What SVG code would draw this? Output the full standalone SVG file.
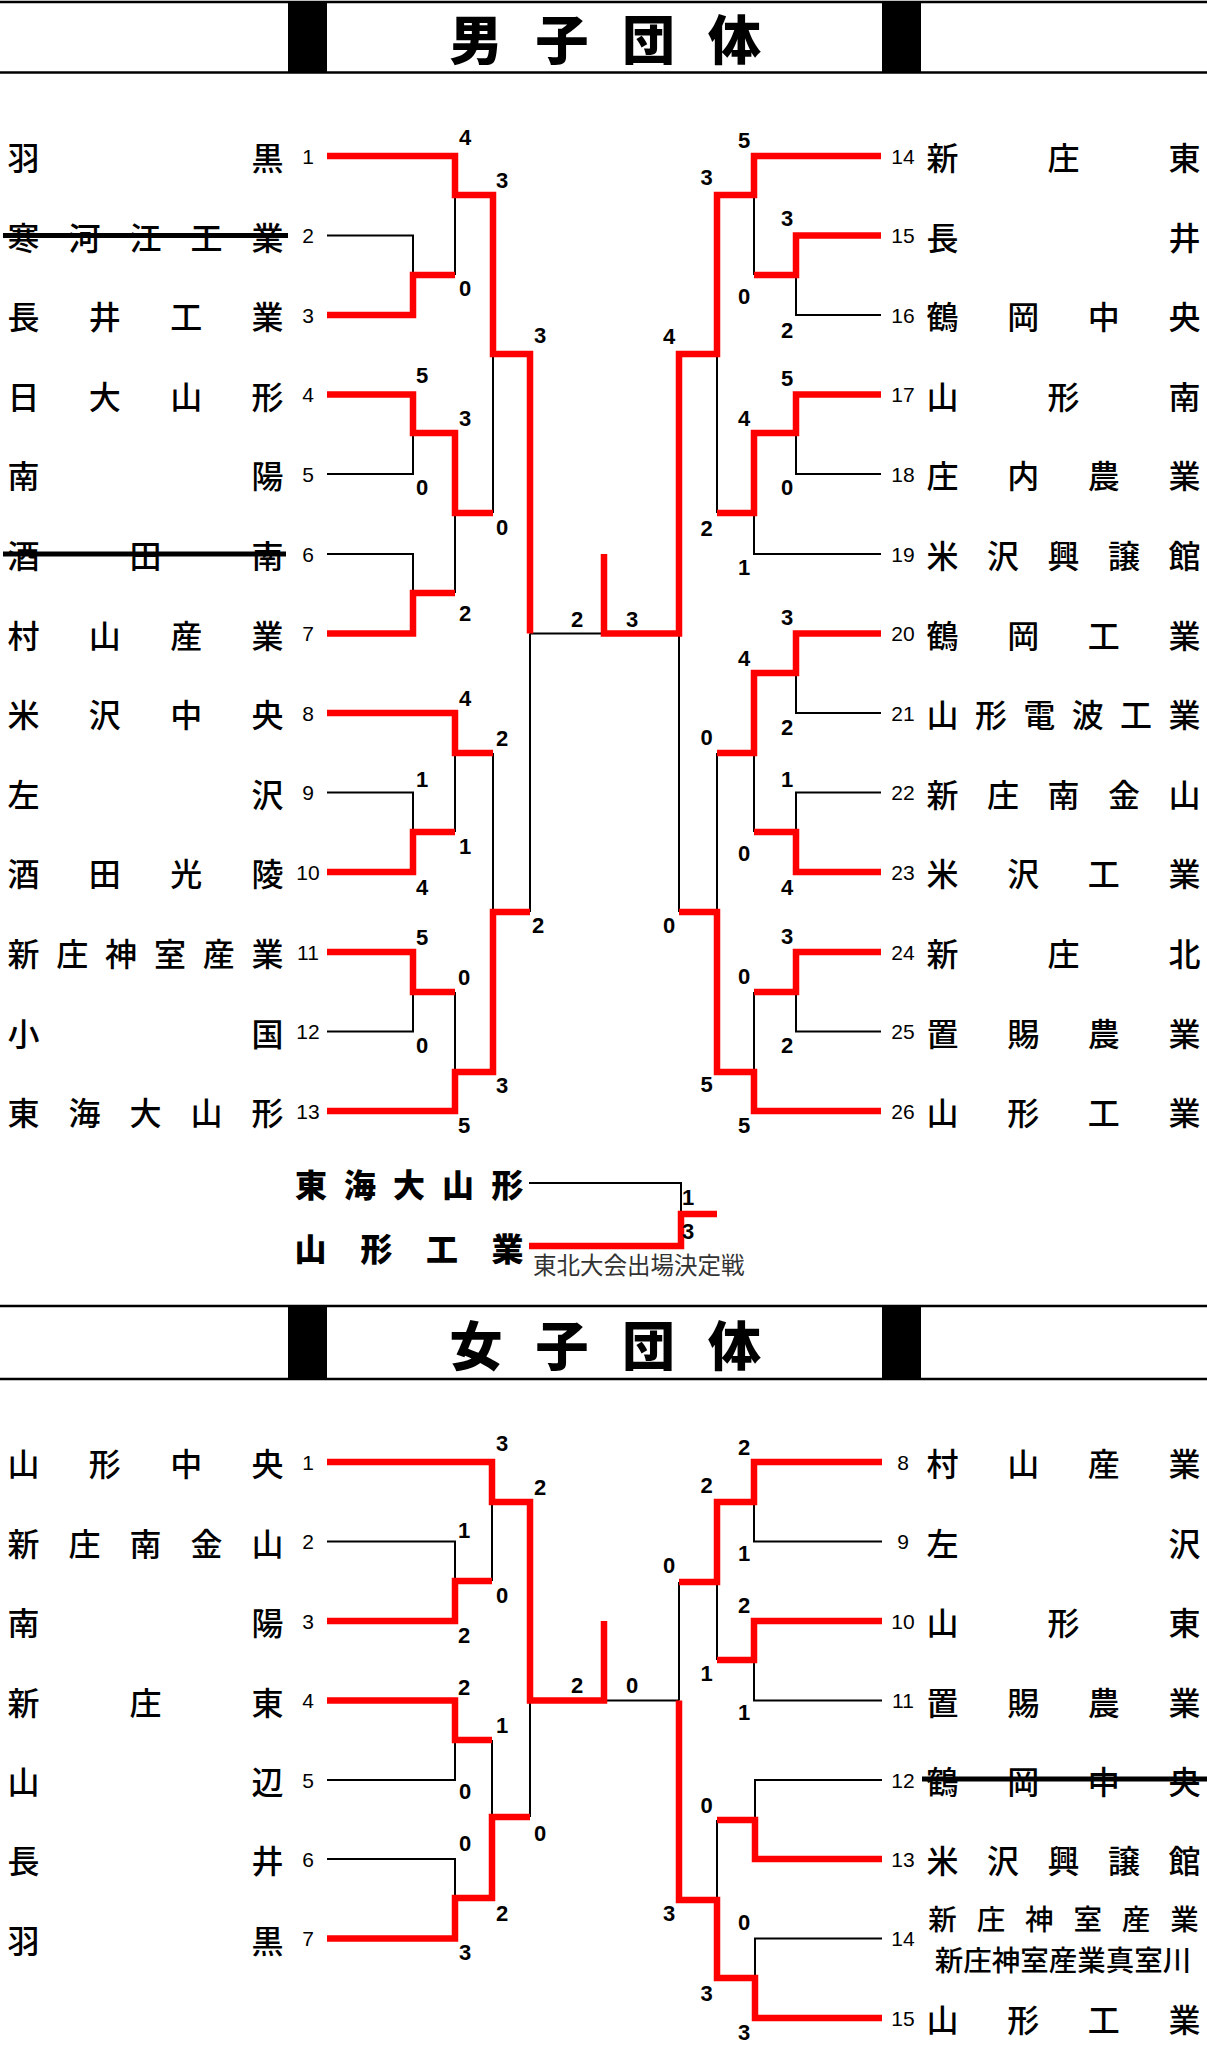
<svg xmlns="http://www.w3.org/2000/svg" width="1207" height="2048" viewBox="0 0 1207 2048">
<style>
.bg{fill:#fff}
.hl{stroke:#000;stroke-width:2.5}
.blk{fill:#000}
.title{font-family:"Noto Sans CJK JP",sans-serif;font-weight:900;font-size:53px;text-anchor:middle;dominant-baseline:central;fill:#000}
.nm{font-family:"Noto Sans CJK JP",sans-serif;font-weight:500;font-size:32px;text-anchor:middle;dominant-baseline:central;fill:#000}
.nm2{font-family:"Noto Sans CJK JP",sans-serif;font-weight:500;font-size:28.5px;text-anchor:middle;dominant-baseline:central;fill:#000}
.po{font-family:"Noto Sans CJK JP",sans-serif;font-weight:900;font-size:32px;text-anchor:middle;dominant-baseline:central;fill:#000}
.sd{font-family:"Liberation Sans Narrow","Liberation Sans",sans-serif;font-size:21px;text-anchor:middle;dominant-baseline:central;fill:#000}
.sc{font-family:"Liberation Sans Narrow","Liberation Sans",sans-serif;font-weight:bold;font-size:22px;text-anchor:middle;dominant-baseline:central;fill:#000}
.note{font-family:"Noto Sans CJK JP",sans-serif;font-size:23.5px;dominant-baseline:central;fill:#333}
.st{stroke:#000;stroke-width:5}
.b{stroke:#000;stroke-width:2;fill:none}
.r{stroke:#ff0000;stroke-width:6.5;fill:none}
</style>
<rect class="bg" x="0" y="0" width="1207" height="2048"/>

<g id="header-men">
<line class="hl" x1="0" y1="2" x2="1207" y2="2"/>
<line class="hl" x1="0" y1="72.5" x2="1207" y2="72.5"/>
<rect class="blk" x="288" y="2" width="39" height="71"/>
<rect class="blk" x="882" y="2" width="39" height="71"/>
<text class="title" x="476 562 648.5 734.5" y="37">男子団体</text>
</g>

<g id="header-women">
<line class="hl" x1="0" y1="1306" x2="1207" y2="1306"/>
<line class="hl" x1="0" y1="1379" x2="1207" y2="1379"/>
<rect class="blk" x="288" y="1306" width="39" height="73"/>
<rect class="blk" x="882" y="1306" width="39" height="73"/>
<text class="title" x="476 562 648.5 734.5" y="1343">女子団体</text>
</g>

<g id="connectors">
<path class="b" d="M327,235.5 H413 V275"/>
<path class="b" d="M327,474 H413 V433"/>
<path class="b" d="M327,554 H413 V593"/>
<path class="b" d="M327,792.5 H413 V832"/>
<path class="b" d="M327,1031.5 H413 V992"/>
<path class="b" d="M455,195 V275 M455,513 V593 M455,753 V832 M455,992 V1072"/>
<path class="b" d="M493,354 V513 M493,753 V912"/>
<path class="b" d="M530,633.5 V912 M530,633.5 H604"/>
<path class="b" d="M881,315 H796 V275"/>
<path class="b" d="M881,474 H796 V433"/>
<path class="b" d="M881,554 H754 V513"/>
<path class="b" d="M881,713 H796 V673"/>
<path class="b" d="M881,792.5 H796 V832"/>
<path class="b" d="M881,1031.5 H796 V992"/>
<path class="b" d="M754,195 V275 M754,753 V832 M754,992 V1072"/>
<path class="b" d="M717,354 V513 M717,753 V912"/>
<path class="b" d="M679,633.5 V912"/>
<path class="r" d="M327,156 H455 V195 H493 V354 H530 V633.5"/>
<path class="r" d="M327,315 H413 V275 H455"/>
<path class="r" d="M327,394.5 H413 V433 H455 V513 H493"/>
<path class="r" d="M327,633.5 H413 V593 H455"/>
<path class="r" d="M327,713 H455 V753 H493"/>
<path class="r" d="M327,872 H413 V832 H455"/>
<path class="r" d="M327,952 H413 V992 H455"/>
<path class="r" d="M327,1111 H455 V1072 H493 V912 H530"/>
<path class="r" d="M881,156 H754 V195 H717 V354 H679 V633.5 H604 V554"/>
<path class="r" d="M881,235.5 H796 V275 H754"/>
<path class="r" d="M881,394.5 H796 V433 H754 V513 H717"/>
<path class="r" d="M881,633.5 H796 V673 H754 V753 H717"/>
<path class="r" d="M881,872 H796 V832 H754"/>
<path class="r" d="M881,952 H796 V992 H754"/>
<path class="r" d="M881,1111 H754 V1072 H717 V912 H679"/>
<path class="b" d="M529,1183 H681 V1214"/>
<path class="r" d="M529,1246 H681 V1214 H717"/>
<path class="b" d="M327,1541.5 H455 V1581"/>
<path class="b" d="M327,1780 H455 V1740"/>
<path class="b" d="M327,1859 H455 V1898"/>
<path class="b" d="M492,1502 V1581 M492,1740 V1817"/>
<path class="b" d="M530,1700.5 V1817"/>
<path class="b" d="M882,1541.5 H754 V1502"/>
<path class="b" d="M882,1700.5 H754 V1660"/>
<path class="b" d="M882,1780 H755 V1820"/>
<path class="b" d="M882,1938.5 H755 V1978"/>
<path class="b" d="M717,1582 V1660 M717,1820 V1900"/>
<path class="b" d="M679,1582 V1700.5 M604,1700.5 H679"/>
<path class="r" d="M327,1462 H492 V1502 H530 V1700.5 H604 V1621"/>
<path class="r" d="M327,1621 H455 V1581 H492"/>
<path class="r" d="M327,1700.5 H455 V1740 H492"/>
<path class="r" d="M327,1938.5 H455 V1898 H492 V1817 H530"/>
<path class="r" d="M882,1462 H754 V1502 H717 V1582 H679"/>
<path class="r" d="M882,1621 H754 V1660 H717"/>
<path class="r" d="M882,1859 H755 V1820 H717"/>
<path class="r" d="M882,2018 H755 V1978 H717 V1900 H679 V1700.5"/>
</g>

<g id="m-1"><text class="nm" x="23.5 267.5" y="156">羽黒</text><text class="sd" x="308" y="156">1</text></g>
<g id="m-2"><text class="nm" x="23.5 84.5 145.5 206.5 267.5" y="235.5">寒河江工業</text><line class="st" x1="3" y1="235.5" x2="288" y2="235.5"/><text class="sd" x="308" y="235.5">2</text></g>
<g id="m-3"><text class="nm" x="23.5 104.8 186.2 267.5" y="315">長井工業</text><text class="sd" x="308" y="315">3</text></g>
<g id="m-4"><text class="nm" x="23.5 104.8 186.2 267.5" y="394.5">日大山形</text><text class="sd" x="308" y="394.5">4</text></g>
<g id="m-5"><text class="nm" x="23.5 267.5" y="474">南陽</text><text class="sd" x="308" y="474">5</text></g>
<g id="m-6"><text class="nm" x="23.5 145.5 267.5" y="554">酒田南</text><line class="st" x1="3" y1="554" x2="286" y2="554"/><text class="sd" x="308" y="554">6</text></g>
<g id="m-7"><text class="nm" x="23.5 104.8 186.2 267.5" y="633.5">村山産業</text><text class="sd" x="308" y="633.5">7</text></g>
<g id="m-8"><text class="nm" x="23.5 104.8 186.2 267.5" y="713">米沢中央</text><text class="sd" x="308" y="713">8</text></g>
<g id="m-9"><text class="nm" x="23.5 267.5" y="792.5">左沢</text><text class="sd" x="308" y="792.5">9</text></g>
<g id="m-10"><text class="nm" x="23.5 104.8 186.2 267.5" y="872">酒田光陵</text><text class="sd" x="308" y="872">10</text></g>
<g id="m-11"><text class="nm" x="23.5 72.3 121.1 169.9 218.7 267.5" y="952">新庄神室産業</text><text class="sd" x="308" y="952">11</text></g>
<g id="m-12"><text class="nm" x="23.5 267.5" y="1031.5">小国</text><text class="sd" x="308" y="1031.5">12</text></g>
<g id="m-13"><text class="nm" x="23.5 84.5 145.5 206.5 267.5" y="1111">東海大山形</text><text class="sd" x="308" y="1111">13</text></g>
<g id="m-14"><text class="sd" x="903" y="156">14</text><text class="nm" x="942.5 1063.5 1184.5" y="156">新庄東</text></g>
<g id="m-15"><text class="sd" x="903" y="235.5">15</text><text class="nm" x="942.5 1184.5" y="235.5">長井</text></g>
<g id="m-16"><text class="sd" x="903" y="315">16</text><text class="nm" x="942.5 1023.2 1103.8 1184.5" y="315">鶴岡中央</text></g>
<g id="m-17"><text class="sd" x="903" y="394.5">17</text><text class="nm" x="942.5 1063.5 1184.5" y="394.5">山形南</text></g>
<g id="m-18"><text class="sd" x="903" y="474">18</text><text class="nm" x="942.5 1023.2 1103.8 1184.5" y="474">庄内農業</text></g>
<g id="m-19"><text class="sd" x="903" y="554">19</text><text class="nm" x="942.5 1003 1063.5 1124 1184.5" y="554">米沢興譲館</text></g>
<g id="m-20"><text class="sd" x="903" y="633.5">20</text><text class="nm" x="942.5 1023.2 1103.8 1184.5" y="633.5">鶴岡工業</text></g>
<g id="m-21"><text class="sd" x="903" y="713">21</text><text class="nm" x="942.5 990.9 1039.3 1087.7 1136.1 1184.5" y="713">山形電波工業</text></g>
<g id="m-22"><text class="sd" x="903" y="792.5">22</text><text class="nm" x="942.5 1003 1063.5 1124 1184.5" y="792.5">新庄南金山</text></g>
<g id="m-23"><text class="sd" x="903" y="872">23</text><text class="nm" x="942.5 1023.2 1103.8 1184.5" y="872">米沢工業</text></g>
<g id="m-24"><text class="sd" x="903" y="952">24</text><text class="nm" x="942.5 1063.5 1184.5" y="952">新庄北</text></g>
<g id="m-25"><text class="sd" x="903" y="1031.5">25</text><text class="nm" x="942.5 1023.2 1103.8 1184.5" y="1031.5">置賜農業</text></g>
<g id="m-26"><text class="sd" x="903" y="1111">26</text><text class="nm" x="942.5 1023.2 1103.8 1184.5" y="1111">山形工業</text></g>

<g id="po-1"><text class="po" x="311 360 409 458 507.5" y="1183">東海大山形</text></g>
<g id="po-2"><text class="po" x="310.5 376.5 442 507.5" y="1247">山形工業</text></g>
<g id="po-note"><text class="note" x="533" y="1264">東北大会出場決定戦</text></g>

<g id="w-1"><text class="nm" x="23.5 104.8 186.2 267.5" y="1462">山形中央</text><text class="sd" x="308" y="1462">1</text></g>
<g id="w-2"><text class="nm" x="23.5 84.5 145.5 206.5 267.5" y="1541.5">新庄南金山</text><text class="sd" x="308" y="1541.5">2</text></g>
<g id="w-3"><text class="nm" x="23.5 267.5" y="1621">南陽</text><text class="sd" x="308" y="1621">3</text></g>
<g id="w-4"><text class="nm" x="23.5 145.5 267.5" y="1700.5">新庄東</text><text class="sd" x="308" y="1700.5">4</text></g>
<g id="w-5"><text class="nm" x="23.5 267.5" y="1780">山辺</text><text class="sd" x="308" y="1780">5</text></g>
<g id="w-6"><text class="nm" x="23.5 267.5" y="1859">長井</text><text class="sd" x="308" y="1859">6</text></g>
<g id="w-7"><text class="nm" x="23.5 267.5" y="1938.5">羽黒</text><text class="sd" x="308" y="1938.5">7</text></g>
<g id="w-8"><text class="sd" x="903" y="1462">8</text><text class="nm" x="942.5 1023.2 1103.8 1184.5" y="1462">村山産業</text></g>
<g id="w-9"><text class="sd" x="903" y="1541.5">9</text><text class="nm" x="942.5 1184.5" y="1541.5">左沢</text></g>
<g id="w-10"><text class="sd" x="903" y="1621">10</text><text class="nm" x="942.5 1063.5 1184.5" y="1621">山形東</text></g>
<g id="w-11"><text class="sd" x="903" y="1700.5">11</text><text class="nm" x="942.5 1023.2 1103.8 1184.5" y="1700.5">置賜農業</text></g>
<g id="w-12"><text class="sd" x="903" y="1780">12</text><text class="nm" x="942.5 1023.2 1103.8 1184.5" y="1780">鶴岡中央</text><line class="st" x1="922" y1="1779" x2="1207" y2="1779"/></g>
<g id="w-13"><text class="sd" x="903" y="1859">13</text><text class="nm" x="942.5 1003 1063.5 1124 1184.5" y="1859">米沢興譲館</text></g>
<g id="w-14"><text class="sd" x="903" y="1938.5">14</text><text class="nm2" x="942.5 990.9 1039.3 1087.7 1136.1 1184.5" y="1917">新庄神室産業</text><text class="nm2" x="1063" y="1958">新庄神室産業真室川</text></g>
<g id="w-15"><text class="sd" x="903" y="2018">15</text><text class="nm" x="942.5 1023.2 1103.8 1184.5" y="2018">山形工業</text></g>

<g id="scores">
<text class="sc" x="465" y="137">4</text>
<text class="sc" x="502" y="180">3</text>
<text class="sc" x="465" y="288">0</text>
<text class="sc" x="540" y="335">3</text>
<text class="sc" x="422" y="375">5</text>
<text class="sc" x="465" y="418">3</text>
<text class="sc" x="422" y="487">0</text>
<text class="sc" x="502" y="527">0</text>
<text class="sc" x="465" y="613">2</text>
<text class="sc" x="465" y="698">4</text>
<text class="sc" x="502" y="738">2</text>
<text class="sc" x="422" y="779">1</text>
<text class="sc" x="465" y="846">1</text>
<text class="sc" x="422" y="887">4</text>
<text class="sc" x="538" y="925">2</text>
<text class="sc" x="422" y="937">5</text>
<text class="sc" x="464" y="977">0</text>
<text class="sc" x="422" y="1045">0</text>
<text class="sc" x="502" y="1085">3</text>
<text class="sc" x="464" y="1125">5</text>
<text class="sc" x="577" y="619">2</text>
<text class="sc" x="632" y="619">3</text>
<text class="sc" x="744" y="140">5</text>
<text class="sc" x="706.5" y="177">3</text>
<text class="sc" x="787" y="218">3</text>
<text class="sc" x="744" y="296">0</text>
<text class="sc" x="787" y="330">2</text>
<text class="sc" x="669" y="336">4</text>
<text class="sc" x="787" y="378">5</text>
<text class="sc" x="744" y="418">4</text>
<text class="sc" x="787" y="487">0</text>
<text class="sc" x="706.5" y="528">2</text>
<text class="sc" x="744" y="567">1</text>
<text class="sc" x="787" y="617">3</text>
<text class="sc" x="744" y="658">4</text>
<text class="sc" x="787" y="727">2</text>
<text class="sc" x="706.5" y="737">0</text>
<text class="sc" x="787" y="779">1</text>
<text class="sc" x="744" y="853">0</text>
<text class="sc" x="787" y="887">4</text>
<text class="sc" x="669" y="925">0</text>
<text class="sc" x="787" y="936">3</text>
<text class="sc" x="744" y="976">0</text>
<text class="sc" x="787" y="1045">2</text>
<text class="sc" x="706.5" y="1084">5</text>
<text class="sc" x="744" y="1125">5</text>
<text class="sc" x="688" y="1197">1</text>
<text class="sc" x="688" y="1231">3</text>
<text class="sc" x="502" y="1443">3</text>
<text class="sc" x="540" y="1487">2</text>
<text class="sc" x="464" y="1530">1</text>
<text class="sc" x="502" y="1595">0</text>
<text class="sc" x="464" y="1635">2</text>
<text class="sc" x="464" y="1687">2</text>
<text class="sc" x="502" y="1725">1</text>
<text class="sc" x="465" y="1791">0</text>
<text class="sc" x="540" y="1833">0</text>
<text class="sc" x="465" y="1843">0</text>
<text class="sc" x="502" y="1913">2</text>
<text class="sc" x="465" y="1952">3</text>
<text class="sc" x="577" y="1685">2</text>
<text class="sc" x="632" y="1685">0</text>
<text class="sc" x="744" y="1447">2</text>
<text class="sc" x="706.5" y="1485">2</text>
<text class="sc" x="744" y="1553">1</text>
<text class="sc" x="669" y="1565">0</text>
<text class="sc" x="744" y="1605">2</text>
<text class="sc" x="706.5" y="1673">1</text>
<text class="sc" x="744" y="1712">1</text>
<text class="sc" x="706.5" y="1805">0</text>
<text class="sc" x="669" y="1913">3</text>
<text class="sc" x="744" y="1922">0</text>
<text class="sc" x="706.5" y="1993">3</text>
<text class="sc" x="744" y="2032">3</text>
</g>
</svg>
